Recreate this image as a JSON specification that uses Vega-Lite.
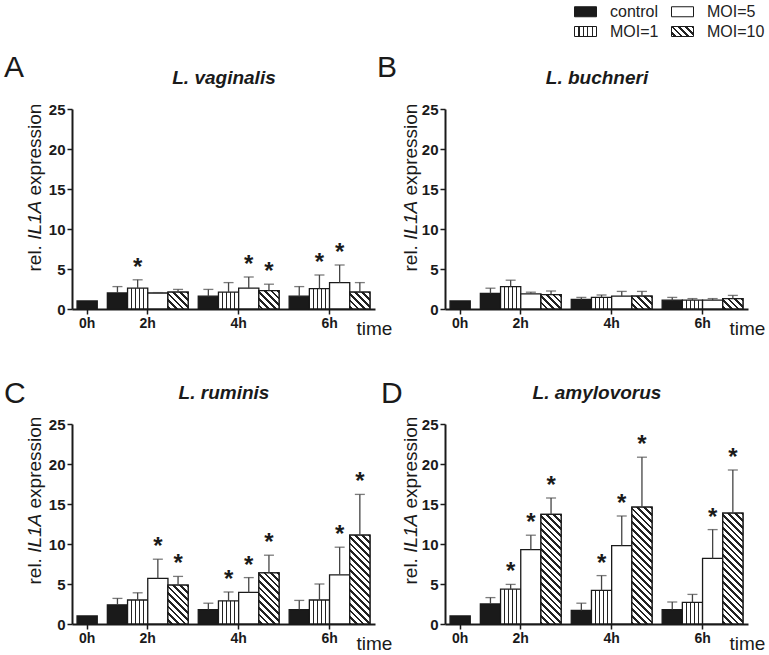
{
  "$schema": "https://vega.github.io/schema/vega-lite/v6.json",
  "padding": {"left": 3, "top": 3, "right": 0, "bottom": 0},
  "bounds": "flush",
  "columns": 2,
  "spacing": {"row": 115, "column": 70},
  "config": {
    "font": "Liberation Sans",
    "view": {"stroke": null},
    "axis": {"grid": false}
  },
  "data": {
    "values": [
      {"panel": "A", "time": "0h", "group": "control", "mean": 1.0, "upper": null, "sig": false},
      {"panel": "A", "time": "2h", "group": "control", "mean": 2.0, "upper": 2.8, "sig": false},
      {"panel": "A", "time": "2h", "group": "MOI=1", "mean": 2.6, "upper": 3.65, "sig": true},
      {"panel": "A", "time": "2h", "group": "MOI=5", "mean": 2.0, "upper": 2.05, "sig": false},
      {"panel": "A", "time": "2h", "group": "MOI=10", "mean": 2.1, "upper": 2.45, "sig": false},
      {"panel": "A", "time": "4h", "group": "control", "mean": 1.6, "upper": 2.45, "sig": false},
      {"panel": "A", "time": "4h", "group": "MOI=1", "mean": 2.1, "upper": 3.3, "sig": false},
      {"panel": "A", "time": "4h", "group": "MOI=5", "mean": 2.6, "upper": 4.0, "sig": true},
      {"panel": "A", "time": "4h", "group": "MOI=10", "mean": 2.3, "upper": 3.1, "sig": true},
      {"panel": "A", "time": "6h", "group": "control", "mean": 1.6, "upper": 2.8, "sig": false},
      {"panel": "A", "time": "6h", "group": "MOI=1", "mean": 2.55, "upper": 4.25, "sig": true},
      {"panel": "A", "time": "6h", "group": "MOI=5", "mean": 3.3, "upper": 5.5, "sig": true},
      {"panel": "A", "time": "6h", "group": "MOI=10", "mean": 2.1, "upper": 3.3, "sig": false},
      {"panel": "B", "time": "0h", "group": "control", "mean": 1.0, "upper": null, "sig": false},
      {"panel": "B", "time": "2h", "group": "control", "mean": 1.95, "upper": 2.6, "sig": false},
      {"panel": "B", "time": "2h", "group": "MOI=1", "mean": 2.8, "upper": 3.6, "sig": false},
      {"panel": "B", "time": "2h", "group": "MOI=5", "mean": 1.9, "upper": 2.1, "sig": false},
      {"panel": "B", "time": "2h", "group": "MOI=10", "mean": 1.8, "upper": 2.25, "sig": false},
      {"panel": "B", "time": "4h", "group": "control", "mean": 1.2, "upper": 1.45, "sig": false},
      {"panel": "B", "time": "4h", "group": "MOI=1", "mean": 1.45, "upper": 1.75, "sig": false},
      {"panel": "B", "time": "4h", "group": "MOI=5", "mean": 1.6, "upper": 2.2, "sig": false},
      {"panel": "B", "time": "4h", "group": "MOI=10", "mean": 1.6, "upper": 2.2, "sig": false},
      {"panel": "B", "time": "6h", "group": "control", "mean": 1.1, "upper": 1.45, "sig": false},
      {"panel": "B", "time": "6h", "group": "MOI=1", "mean": 1.1, "upper": 1.3, "sig": false},
      {"panel": "B", "time": "6h", "group": "MOI=5", "mean": 1.1, "upper": 1.3, "sig": false},
      {"panel": "B", "time": "6h", "group": "MOI=10", "mean": 1.3, "upper": 1.7, "sig": false},
      {"panel": "C", "time": "0h", "group": "control", "mean": 1.0, "upper": null, "sig": false},
      {"panel": "C", "time": "2h", "group": "control", "mean": 2.4, "upper": 3.2, "sig": false},
      {"panel": "C", "time": "2h", "group": "MOI=1", "mean": 3.0, "upper": 3.9, "sig": false},
      {"panel": "C", "time": "2h", "group": "MOI=5", "mean": 5.7, "upper": 8.1, "sig": true},
      {"panel": "C", "time": "2h", "group": "MOI=10", "mean": 4.85, "upper": 5.95, "sig": true},
      {"panel": "C", "time": "4h", "group": "control", "mean": 1.8, "upper": 2.6, "sig": false},
      {"panel": "C", "time": "4h", "group": "MOI=1", "mean": 2.9, "upper": 4.0, "sig": true},
      {"panel": "C", "time": "4h", "group": "MOI=5", "mean": 3.95, "upper": 5.8, "sig": true},
      {"panel": "C", "time": "4h", "group": "MOI=10", "mean": 6.4, "upper": 8.6, "sig": true},
      {"panel": "C", "time": "6h", "group": "control", "mean": 1.8, "upper": 2.95, "sig": false},
      {"panel": "C", "time": "6h", "group": "MOI=1", "mean": 3.0, "upper": 5.0, "sig": false},
      {"panel": "C", "time": "6h", "group": "MOI=5", "mean": 6.15, "upper": 9.6, "sig": true},
      {"panel": "C", "time": "6h", "group": "MOI=10", "mean": 11.1, "upper": 16.2, "sig": true},
      {"panel": "D", "time": "0h", "group": "control", "mean": 1.0, "upper": null, "sig": false},
      {"panel": "D", "time": "2h", "group": "control", "mean": 2.5, "upper": 3.3, "sig": false},
      {"panel": "D", "time": "2h", "group": "MOI=1", "mean": 4.35, "upper": 4.95, "sig": true},
      {"panel": "D", "time": "2h", "group": "MOI=5", "mean": 9.3, "upper": 11.1, "sig": true},
      {"panel": "D", "time": "2h", "group": "MOI=10", "mean": 13.7, "upper": 15.75, "sig": true},
      {"panel": "D", "time": "4h", "group": "control", "mean": 1.7, "upper": 2.6, "sig": false},
      {"panel": "D", "time": "4h", "group": "MOI=1", "mean": 4.2, "upper": 6.05, "sig": true},
      {"panel": "D", "time": "4h", "group": "MOI=5", "mean": 9.8, "upper": 13.5, "sig": true},
      {"panel": "D", "time": "4h", "group": "MOI=10", "mean": 14.6, "upper": 20.85, "sig": true},
      {"panel": "D", "time": "6h", "group": "control", "mean": 1.8, "upper": 2.75, "sig": false},
      {"panel": "D", "time": "6h", "group": "MOI=1", "mean": 2.7, "upper": 3.7, "sig": false},
      {"panel": "D", "time": "6h", "group": "MOI=5", "mean": 8.2, "upper": 11.8, "sig": true},
      {"panel": "D", "time": "6h", "group": "MOI=10", "mean": 13.85, "upper": 19.25, "sig": true}
    ]
  },
  "concat": [
    {
      "width": 303, "height": 200,
      "title": {"text": "A", "anchor": "start", "frame": "bounds", "fontSize": 30, "fontWeight": "normal", "color": "#1a1a1a", "baseline": "alphabetic", "offset": 0, "dx": -21, "dy": 38},
      "transform": [{"filter": "datum.panel == 'A'"}, {"calculate": "datum.time + '|' + datum.group", "as": "key"}],
      "resolve": {"axis": {"x": "independent", "y": "independent"}},
      "layer": [
        {
          "mark": {"type": "bar", "stroke": "#1a1a1a", "strokeWidth": 1.3, "width": {"band": 2}},
          "encoding": {
            "x": {"field": "key", "type": "nominal", "scale": {"type": "band", "domain": ["0h|control","_1","_2","2h|control","_3","2h|MOI=1","2h","2h|MOI=5","_4","2h|MOI=10","_5","_6","4h|control","_7","4h|MOI=1","4h","4h|MOI=5","_8","4h|MOI=10","_9","_10","6h|control","_11","6h|MOI=1","6h","6h|MOI=5","_12","6h|MOI=10"], "paddingInner": 0, "paddingOuter": 1},
              "axis": {"values": ["0h|control","2h","4h","6h"], "labelExpr": "split(datum.value,'|')[0]", "labelAngle": 0, "labelFontSize": 14, "labelFontWeight": "bold", "labelColor": "#1a1a1a", "labelPadding": 2, "tickSize": 5, "tickWidth": 1.5, "tickColor": "#1a1a1a", "domainColor": "#1a1a1a", "domainWidth": 2, "title": "time", "titleX": 284, "titleY": 25, "titleAlign": "left", "titleAnchor": "start", "titleBaseline": "alphabetic", "titleFontSize": 19, "titleFontWeight": "normal", "titleColor": "#1a1a1a"}},
            "y": {"field": "mean", "type": "quantitative", "scale": {"domain": [0, 25], "nice": false},
              "axis": {"orient": "left", "values": [0,5,10,15,20,25], "labelOverlap": false, "title": "rel.", "titleFontSize": 19, "titleFontWeight": "normal", "titleColor": "#1a1a1a", "titleX": -32, "titleY": 162, "titleAngle": 270, "titleAlign": "left", "titleBaseline": "alphabetic", "labelFontSize": 15, "labelFontWeight": "bold", "labelColor": "#1a1a1a", "labelPadding": 2, "tickSize": 5, "tickWidth": 1.5, "tickColor": "#1a1a1a", "domainColor": "#1a1a1a", "domainWidth": 2}},
            "fill": {"field": "group", "type": "nominal",
              "scale": {"domain": ["control","MOI=1","MOI=5","MOI=10"], "range": ["#1a1a1a",
                {"expr": "{gradient:'linear',x1:0,y1:0,x2:1,y2:0,stops:[{offset:0,color:'#fff'},{offset:0.18,color:'#fff'},{offset:0.18,color:'#222'},{offset:0.235,color:'#222'},{offset:0.235,color:'#fff'},{offset:0.38,color:'#fff'},{offset:0.38,color:'#222'},{offset:0.435,color:'#222'},{offset:0.435,color:'#fff'},{offset:0.58,color:'#fff'},{offset:0.58,color:'#222'},{offset:0.635,color:'#222'},{offset:0.635,color:'#fff'},{offset:0.78,color:'#fff'},{offset:0.78,color:'#222'},{offset:0.835,color:'#222'},{offset:0.835,color:'#fff'},{offset:1,color:'#fff'}]}"},
                "#ffffff",
                {"expr": "{gradient:'linear',x1:1,y1:0,x2:-0.205,y2:0.548,stops:[{offset:0,color:'#222'},{offset:0.084,color:'#222'},{offset:0.084,color:'#fff'},{offset:0.21,color:'#fff'},{offset:0.21,color:'#222'},{offset:0.294,color:'#222'},{offset:0.294,color:'#fff'},{offset:0.42,color:'#fff'},{offset:0.42,color:'#222'},{offset:0.504,color:'#222'},{offset:0.504,color:'#fff'},{offset:0.63,color:'#fff'},{offset:0.63,color:'#222'},{offset:0.714,color:'#222'},{offset:0.714,color:'#fff'},{offset:0.84,color:'#fff'},{offset:0.84,color:'#222'},{offset:0.924,color:'#222'},{offset:0.924,color:'#fff'},{offset:1,color:'#fff'}]}"}
              ]},
              "legend": {"orient": "none", "legendX": 505, "legendY": -106, "columns": 2, "title": null, "padding": 0, "symbolType": "M-1.375,-0.625H1.375V0.625H-1.375Z", "symbolSize": 256, "symbolStrokeColor": "#1a1a1a", "symbolStrokeWidth": 1, "symbolOpacity": 1, "labelFontSize": 16, "labelColor": "#222222", "labelOffset": 16, "columnPadding": 10, "rowPadding": 3}}
          }
        },
        {
          "transform": [{"filter": "datum.group == 'MOI=10'"}],
          "mark": {"type": "bar", "stroke": "#1a1a1a", "strokeWidth": 1.3, "width": {"band": 2},
            "fill": {"expr": "{gradient:'linear',x1:1,y1:0,x2:1-20.2*(20.2+datum.mean*8)/(408+pow(datum.mean*8,2)),y2:datum.mean*8*(20.2+datum.mean*8)/(408+pow(datum.mean*8,2)),stops:[{offset:0,color:'#222'},{offset:min(1,2.7/(20.2+datum.mean*8)),color:'#222'},{offset:min(1,2.7/(20.2+datum.mean*8)),color:'#fff'},{offset:min(1,6.7/(20.2+datum.mean*8)),color:'#fff'},{offset:min(1,6.7/(20.2+datum.mean*8)),color:'#222'},{offset:min(1,9.4/(20.2+datum.mean*8)),color:'#222'},{offset:min(1,9.4/(20.2+datum.mean*8)),color:'#fff'},{offset:min(1,13.4/(20.2+datum.mean*8)),color:'#fff'},{offset:min(1,13.4/(20.2+datum.mean*8)),color:'#222'},{offset:min(1,16.1/(20.2+datum.mean*8)),color:'#222'},{offset:min(1,16.1/(20.2+datum.mean*8)),color:'#fff'},{offset:min(1,20.1/(20.2+datum.mean*8)),color:'#fff'},{offset:min(1,20.1/(20.2+datum.mean*8)),color:'#222'},{offset:min(1,22.8/(20.2+datum.mean*8)),color:'#222'},{offset:min(1,22.8/(20.2+datum.mean*8)),color:'#fff'},{offset:min(1,26.8/(20.2+datum.mean*8)),color:'#fff'},{offset:min(1,26.8/(20.2+datum.mean*8)),color:'#222'},{offset:min(1,29.5/(20.2+datum.mean*8)),color:'#222'},{offset:min(1,29.5/(20.2+datum.mean*8)),color:'#fff'},{offset:min(1,33.5/(20.2+datum.mean*8)),color:'#fff'},{offset:min(1,33.5/(20.2+datum.mean*8)),color:'#222'},{offset:min(1,36.2/(20.2+datum.mean*8)),color:'#222'},{offset:min(1,36.2/(20.2+datum.mean*8)),color:'#fff'},{offset:min(1,40.2/(20.2+datum.mean*8)),color:'#fff'},{offset:min(1,40.2/(20.2+datum.mean*8)),color:'#222'},{offset:min(1,42.9/(20.2+datum.mean*8)),color:'#222'},{offset:min(1,42.9/(20.2+datum.mean*8)),color:'#fff'},{offset:min(1,46.9/(20.2+datum.mean*8)),color:'#fff'},{offset:1,color:'#fff'}]}"}},
          "encoding": {
            "x": {"field": "key", "type": "nominal", "axis": null},
            "y": {"field": "mean", "type": "quantitative", "axis": null}
          }
        },
        {
          "transform": [{"filter": "isValid(datum.upper)"}],
          "mark": {"type": "rule", "color": "#444444", "strokeWidth": 1.3},
          "encoding": {
            "x": {"field": "key", "type": "nominal", "axis": null},
            "y": {"field": "mean", "type": "quantitative", "axis": {"orient": "left", "domain": false, "ticks": false, "labels": false, "title": "IL1A", "titleFontStyle": "italic", "titleFontSize": 19, "titleFontWeight": "normal", "titleColor": "#1a1a1a", "titleX": -32, "titleY": 130.3, "titleAngle": 270, "titleAlign": "left", "titleBaseline": "alphabetic"}},
            "y2": {"field": "upper"}
          }
        },
        {
          "transform": [{"filter": "isValid(datum.upper)"}],
          "mark": {"type": "tick", "color": "#444444", "thickness": 1.3, "size": 10, "orient": "horizontal"},
          "encoding": {
            "x": {"field": "key", "type": "nominal", "axis": null},
            "y": {"field": "upper", "type": "quantitative", "axis": {"orient": "left", "domain": false, "ticks": false, "labels": false, "title": "expression", "titleFontSize": 19, "titleFontWeight": "normal", "titleColor": "#1a1a1a", "titleX": -32, "titleY": 86, "titleAngle": 270, "titleAlign": "left", "titleBaseline": "alphabetic"}}
          }
        },
        {
          "transform": [{"filter": "datum.sig"}],
          "mark": {"type": "text", "text": "*", "fontSize": 24, "fontWeight": "bold", "color": "#1a1a1a", "baseline": "alphabetic", "dy": -5},
          "encoding": {
            "x": {"field": "key", "type": "nominal", "axis": {"orient": "top", "domain": false, "ticks": false, "labels": false, "title": "L. vaginalis", "titleFontStyle": "italic", "titleFontWeight": "bold", "titleFontSize": 19, "titleColor": "#1a1a1a", "titleX": 151.5, "titleY": -25.5, "titleAlign": "center", "titleBaseline": "alphabetic"}},
            "y": {"field": "upper", "type": "quantitative", "axis": null}
          }
        }
      ]
    },
    {
      "width": 303, "height": 200,
      "title": {"text": "B", "anchor": "start", "frame": "bounds", "fontSize": 30, "fontWeight": "normal", "color": "#1a1a1a", "baseline": "alphabetic", "offset": 0, "dx": -24, "dy": 38},
      "transform": [{"filter": "datum.panel == 'B'"}, {"calculate": "datum.time + '|' + datum.group", "as": "key"}],
      "resolve": {"axis": {"x": "independent", "y": "independent"}},
      "layer": [
        {
          "mark": {"type": "bar", "stroke": "#1a1a1a", "strokeWidth": 1.3, "width": {"band": 2}},
          "encoding": {
            "x": {"field": "key", "type": "nominal", "scale": {"type": "band", "domain": ["0h|control","_1","_2","2h|control","_3","2h|MOI=1","2h","2h|MOI=5","_4","2h|MOI=10","_5","_6","4h|control","_7","4h|MOI=1","4h","4h|MOI=5","_8","4h|MOI=10","_9","_10","6h|control","_11","6h|MOI=1","6h","6h|MOI=5","_12","6h|MOI=10"], "paddingInner": 0, "paddingOuter": 1},
              "axis": {"values": ["0h|control","2h","4h","6h"], "labelExpr": "split(datum.value,'|')[0]", "labelAngle": 0, "labelFontSize": 14, "labelFontWeight": "bold", "labelColor": "#1a1a1a", "labelPadding": 2, "tickSize": 5, "tickWidth": 1.5, "tickColor": "#1a1a1a", "domainColor": "#1a1a1a", "domainWidth": 2, "title": "time", "titleX": 284, "titleY": 25, "titleAlign": "left", "titleAnchor": "start", "titleBaseline": "alphabetic", "titleFontSize": 19, "titleFontWeight": "normal", "titleColor": "#1a1a1a"}},
            "y": {"field": "mean", "type": "quantitative", "scale": {"domain": [0, 25], "nice": false},
              "axis": {"orient": "left", "values": [0,5,10,15,20,25], "labelOverlap": false, "title": "rel.", "titleFontSize": 19, "titleFontWeight": "normal", "titleColor": "#1a1a1a", "titleX": -29, "titleY": 162, "titleAngle": 270, "titleAlign": "left", "titleBaseline": "alphabetic", "labelFontSize": 15, "labelFontWeight": "bold", "labelColor": "#1a1a1a", "labelPadding": 2, "tickSize": 5, "tickWidth": 1.5, "tickColor": "#1a1a1a", "domainColor": "#1a1a1a", "domainWidth": 2}},
            "fill": {"field": "group", "type": "nominal",
              "scale": {"domain": ["control","MOI=1","MOI=5","MOI=10"], "range": ["#1a1a1a",
                {"expr": "{gradient:'linear',x1:0,y1:0,x2:1,y2:0,stops:[{offset:0,color:'#fff'},{offset:0.18,color:'#fff'},{offset:0.18,color:'#222'},{offset:0.235,color:'#222'},{offset:0.235,color:'#fff'},{offset:0.38,color:'#fff'},{offset:0.38,color:'#222'},{offset:0.435,color:'#222'},{offset:0.435,color:'#fff'},{offset:0.58,color:'#fff'},{offset:0.58,color:'#222'},{offset:0.635,color:'#222'},{offset:0.635,color:'#fff'},{offset:0.78,color:'#fff'},{offset:0.78,color:'#222'},{offset:0.835,color:'#222'},{offset:0.835,color:'#fff'},{offset:1,color:'#fff'}]}"},
                "#ffffff",
                {"expr": "{gradient:'linear',x1:1,y1:0,x2:-0.205,y2:0.548,stops:[{offset:0,color:'#222'},{offset:0.084,color:'#222'},{offset:0.084,color:'#fff'},{offset:0.21,color:'#fff'},{offset:0.21,color:'#222'},{offset:0.294,color:'#222'},{offset:0.294,color:'#fff'},{offset:0.42,color:'#fff'},{offset:0.42,color:'#222'},{offset:0.504,color:'#222'},{offset:0.504,color:'#fff'},{offset:0.63,color:'#fff'},{offset:0.63,color:'#222'},{offset:0.714,color:'#222'},{offset:0.714,color:'#fff'},{offset:0.84,color:'#fff'},{offset:0.84,color:'#222'},{offset:0.924,color:'#222'},{offset:0.924,color:'#fff'},{offset:1,color:'#fff'}]}"}
              ]},
              "legend": {"orient": "none", "legendX": 505, "legendY": -106, "columns": 2, "title": null, "padding": 0, "symbolType": "M-1.375,-0.625H1.375V0.625H-1.375Z", "symbolSize": 256, "symbolStrokeColor": "#1a1a1a", "symbolStrokeWidth": 1, "symbolOpacity": 1, "labelFontSize": 16, "labelColor": "#222222", "labelOffset": 16, "columnPadding": 10, "rowPadding": 3}}
          }
        },
        {
          "transform": [{"filter": "datum.group == 'MOI=10'"}],
          "mark": {"type": "bar", "stroke": "#1a1a1a", "strokeWidth": 1.3, "width": {"band": 2},
            "fill": {"expr": "{gradient:'linear',x1:1,y1:0,x2:1-20.2*(20.2+datum.mean*8)/(408+pow(datum.mean*8,2)),y2:datum.mean*8*(20.2+datum.mean*8)/(408+pow(datum.mean*8,2)),stops:[{offset:0,color:'#222'},{offset:min(1,2.7/(20.2+datum.mean*8)),color:'#222'},{offset:min(1,2.7/(20.2+datum.mean*8)),color:'#fff'},{offset:min(1,6.7/(20.2+datum.mean*8)),color:'#fff'},{offset:min(1,6.7/(20.2+datum.mean*8)),color:'#222'},{offset:min(1,9.4/(20.2+datum.mean*8)),color:'#222'},{offset:min(1,9.4/(20.2+datum.mean*8)),color:'#fff'},{offset:min(1,13.4/(20.2+datum.mean*8)),color:'#fff'},{offset:min(1,13.4/(20.2+datum.mean*8)),color:'#222'},{offset:min(1,16.1/(20.2+datum.mean*8)),color:'#222'},{offset:min(1,16.1/(20.2+datum.mean*8)),color:'#fff'},{offset:min(1,20.1/(20.2+datum.mean*8)),color:'#fff'},{offset:min(1,20.1/(20.2+datum.mean*8)),color:'#222'},{offset:min(1,22.8/(20.2+datum.mean*8)),color:'#222'},{offset:min(1,22.8/(20.2+datum.mean*8)),color:'#fff'},{offset:min(1,26.8/(20.2+datum.mean*8)),color:'#fff'},{offset:min(1,26.8/(20.2+datum.mean*8)),color:'#222'},{offset:min(1,29.5/(20.2+datum.mean*8)),color:'#222'},{offset:min(1,29.5/(20.2+datum.mean*8)),color:'#fff'},{offset:min(1,33.5/(20.2+datum.mean*8)),color:'#fff'},{offset:min(1,33.5/(20.2+datum.mean*8)),color:'#222'},{offset:min(1,36.2/(20.2+datum.mean*8)),color:'#222'},{offset:min(1,36.2/(20.2+datum.mean*8)),color:'#fff'},{offset:min(1,40.2/(20.2+datum.mean*8)),color:'#fff'},{offset:1,color:'#fff'}]}"}},
          "encoding": {
            "x": {"field": "key", "type": "nominal", "axis": null},
            "y": {"field": "mean", "type": "quantitative", "axis": null}
          }
        },
        {
          "transform": [{"filter": "isValid(datum.upper)"}],
          "mark": {"type": "rule", "color": "#444444", "strokeWidth": 1.3},
          "encoding": {
            "x": {"field": "key", "type": "nominal", "axis": null},
            "y": {"field": "mean", "type": "quantitative", "axis": {"orient": "left", "domain": false, "ticks": false, "labels": false, "title": "IL1A", "titleFontStyle": "italic", "titleFontSize": 19, "titleFontWeight": "normal", "titleColor": "#1a1a1a", "titleX": -29, "titleY": 130.3, "titleAngle": 270, "titleAlign": "left", "titleBaseline": "alphabetic"}},
            "y2": {"field": "upper"}
          }
        },
        {
          "transform": [{"filter": "isValid(datum.upper)"}],
          "mark": {"type": "tick", "color": "#444444", "thickness": 1.3, "size": 10, "orient": "horizontal"},
          "encoding": {
            "x": {"field": "key", "type": "nominal", "axis": null},
            "y": {"field": "upper", "type": "quantitative", "axis": {"orient": "left", "domain": false, "ticks": false, "labels": false, "title": "expression", "titleFontSize": 19, "titleFontWeight": "normal", "titleColor": "#1a1a1a", "titleX": -29, "titleY": 86, "titleAngle": 270, "titleAlign": "left", "titleBaseline": "alphabetic"}}
          }
        },
        {
          "transform": [{"filter": "datum.sig"}],
          "mark": {"type": "text", "text": "*", "fontSize": 24, "fontWeight": "bold", "color": "#1a1a1a", "baseline": "alphabetic", "dy": -5},
          "encoding": {
            "x": {"field": "key", "type": "nominal", "axis": {"orient": "top", "domain": false, "ticks": false, "labels": false, "title": "L. buchneri", "titleFontStyle": "italic", "titleFontWeight": "bold", "titleFontSize": 19, "titleColor": "#1a1a1a", "titleX": 151.5, "titleY": -25.5, "titleAlign": "center", "titleBaseline": "alphabetic"}},
            "y": {"field": "upper", "type": "quantitative", "axis": null}
          }
        }
      ]
    },
    {
      "width": 303, "height": 200,
      "title": {"text": "C", "anchor": "start", "frame": "bounds", "fontSize": 30, "fontWeight": "normal", "color": "#1a1a1a", "baseline": "alphabetic", "offset": 0, "dx": -21, "dy": 50},
      "transform": [{"filter": "datum.panel == 'C'"}, {"calculate": "datum.time + '|' + datum.group", "as": "key"}],
      "resolve": {"axis": {"x": "independent", "y": "independent"}},
      "layer": [
        {
          "mark": {"type": "bar", "stroke": "#1a1a1a", "strokeWidth": 1.3, "width": {"band": 2}},
          "encoding": {
            "x": {"field": "key", "type": "nominal", "scale": {"type": "band", "domain": ["0h|control","_1","_2","2h|control","_3","2h|MOI=1","2h","2h|MOI=5","_4","2h|MOI=10","_5","_6","4h|control","_7","4h|MOI=1","4h","4h|MOI=5","_8","4h|MOI=10","_9","_10","6h|control","_11","6h|MOI=1","6h","6h|MOI=5","_12","6h|MOI=10"], "paddingInner": 0, "paddingOuter": 1},
              "axis": {"values": ["0h|control","2h","4h","6h"], "labelExpr": "split(datum.value,'|')[0]", "labelAngle": 0, "labelFontSize": 14, "labelFontWeight": "bold", "labelColor": "#1a1a1a", "labelPadding": 2, "tickSize": 5, "tickWidth": 1.5, "tickColor": "#1a1a1a", "domainColor": "#1a1a1a", "domainWidth": 2, "title": "time", "titleX": 284, "titleY": 25, "titleAlign": "left", "titleAnchor": "start", "titleBaseline": "alphabetic", "titleFontSize": 19, "titleFontWeight": "normal", "titleColor": "#1a1a1a"}},
            "y": {"field": "mean", "type": "quantitative", "scale": {"domain": [0, 25], "nice": false},
              "axis": {"orient": "left", "values": [0,5,10,15,20,25], "labelOverlap": false, "title": "rel.", "titleFontSize": 19, "titleFontWeight": "normal", "titleColor": "#1a1a1a", "titleX": -32, "titleY": 160, "titleAngle": 270, "titleAlign": "left", "titleBaseline": "alphabetic", "labelFontSize": 15, "labelFontWeight": "bold", "labelColor": "#1a1a1a", "labelPadding": 2, "tickSize": 5, "tickWidth": 1.5, "tickColor": "#1a1a1a", "domainColor": "#1a1a1a", "domainWidth": 2}},
            "fill": {"field": "group", "type": "nominal",
              "scale": {"domain": ["control","MOI=1","MOI=5","MOI=10"], "range": ["#1a1a1a",
                {"expr": "{gradient:'linear',x1:0,y1:0,x2:1,y2:0,stops:[{offset:0,color:'#fff'},{offset:0.18,color:'#fff'},{offset:0.18,color:'#222'},{offset:0.235,color:'#222'},{offset:0.235,color:'#fff'},{offset:0.38,color:'#fff'},{offset:0.38,color:'#222'},{offset:0.435,color:'#222'},{offset:0.435,color:'#fff'},{offset:0.58,color:'#fff'},{offset:0.58,color:'#222'},{offset:0.635,color:'#222'},{offset:0.635,color:'#fff'},{offset:0.78,color:'#fff'},{offset:0.78,color:'#222'},{offset:0.835,color:'#222'},{offset:0.835,color:'#fff'},{offset:1,color:'#fff'}]}"},
                "#ffffff",
                {"expr": "{gradient:'linear',x1:1,y1:0,x2:-0.205,y2:0.548,stops:[{offset:0,color:'#222'},{offset:0.084,color:'#222'},{offset:0.084,color:'#fff'},{offset:0.21,color:'#fff'},{offset:0.21,color:'#222'},{offset:0.294,color:'#222'},{offset:0.294,color:'#fff'},{offset:0.42,color:'#fff'},{offset:0.42,color:'#222'},{offset:0.504,color:'#222'},{offset:0.504,color:'#fff'},{offset:0.63,color:'#fff'},{offset:0.63,color:'#222'},{offset:0.714,color:'#222'},{offset:0.714,color:'#fff'},{offset:0.84,color:'#fff'},{offset:0.84,color:'#222'},{offset:0.924,color:'#222'},{offset:0.924,color:'#fff'},{offset:1,color:'#fff'}]}"}
              ]},
              "legend": {"orient": "none", "legendX": 505, "legendY": -106, "columns": 2, "title": null, "padding": 0, "symbolType": "M-1.375,-0.625H1.375V0.625H-1.375Z", "symbolSize": 256, "symbolStrokeColor": "#1a1a1a", "symbolStrokeWidth": 1, "symbolOpacity": 1, "labelFontSize": 16, "labelColor": "#222222", "labelOffset": 16, "columnPadding": 10, "rowPadding": 3}}
          }
        },
        {
          "transform": [{"filter": "datum.group == 'MOI=10'"}],
          "mark": {"type": "bar", "stroke": "#1a1a1a", "strokeWidth": 1.3, "width": {"band": 2},
            "fill": {"expr": "{gradient:'linear',x1:1,y1:0,x2:1-20.2*(20.2+datum.mean*8)/(408+pow(datum.mean*8,2)),y2:datum.mean*8*(20.2+datum.mean*8)/(408+pow(datum.mean*8,2)),stops:[{offset:0,color:'#222'},{offset:min(1,2.7/(20.2+datum.mean*8)),color:'#222'},{offset:min(1,2.7/(20.2+datum.mean*8)),color:'#fff'},{offset:min(1,6.7/(20.2+datum.mean*8)),color:'#fff'},{offset:min(1,6.7/(20.2+datum.mean*8)),color:'#222'},{offset:min(1,9.4/(20.2+datum.mean*8)),color:'#222'},{offset:min(1,9.4/(20.2+datum.mean*8)),color:'#fff'},{offset:min(1,13.4/(20.2+datum.mean*8)),color:'#fff'},{offset:min(1,13.4/(20.2+datum.mean*8)),color:'#222'},{offset:min(1,16.1/(20.2+datum.mean*8)),color:'#222'},{offset:min(1,16.1/(20.2+datum.mean*8)),color:'#fff'},{offset:min(1,20.1/(20.2+datum.mean*8)),color:'#fff'},{offset:min(1,20.1/(20.2+datum.mean*8)),color:'#222'},{offset:min(1,22.8/(20.2+datum.mean*8)),color:'#222'},{offset:min(1,22.8/(20.2+datum.mean*8)),color:'#fff'},{offset:min(1,26.8/(20.2+datum.mean*8)),color:'#fff'},{offset:min(1,26.8/(20.2+datum.mean*8)),color:'#222'},{offset:min(1,29.5/(20.2+datum.mean*8)),color:'#222'},{offset:min(1,29.5/(20.2+datum.mean*8)),color:'#fff'},{offset:min(1,33.5/(20.2+datum.mean*8)),color:'#fff'},{offset:min(1,33.5/(20.2+datum.mean*8)),color:'#222'},{offset:min(1,36.2/(20.2+datum.mean*8)),color:'#222'},{offset:min(1,36.2/(20.2+datum.mean*8)),color:'#fff'},{offset:min(1,40.2/(20.2+datum.mean*8)),color:'#fff'},{offset:min(1,40.2/(20.2+datum.mean*8)),color:'#222'},{offset:min(1,42.9/(20.2+datum.mean*8)),color:'#222'},{offset:min(1,42.9/(20.2+datum.mean*8)),color:'#fff'},{offset:min(1,46.9/(20.2+datum.mean*8)),color:'#fff'},{offset:min(1,46.9/(20.2+datum.mean*8)),color:'#222'},{offset:min(1,49.6/(20.2+datum.mean*8)),color:'#222'},{offset:min(1,49.6/(20.2+datum.mean*8)),color:'#fff'},{offset:min(1,53.6/(20.2+datum.mean*8)),color:'#fff'},{offset:min(1,53.6/(20.2+datum.mean*8)),color:'#222'},{offset:min(1,56.3/(20.2+datum.mean*8)),color:'#222'},{offset:min(1,56.3/(20.2+datum.mean*8)),color:'#fff'},{offset:min(1,60.3/(20.2+datum.mean*8)),color:'#fff'},{offset:min(1,60.3/(20.2+datum.mean*8)),color:'#222'},{offset:min(1,63/(20.2+datum.mean*8)),color:'#222'},{offset:min(1,63/(20.2+datum.mean*8)),color:'#fff'},{offset:min(1,67/(20.2+datum.mean*8)),color:'#fff'},{offset:min(1,67/(20.2+datum.mean*8)),color:'#222'},{offset:min(1,69.7/(20.2+datum.mean*8)),color:'#222'},{offset:min(1,69.7/(20.2+datum.mean*8)),color:'#fff'},{offset:min(1,73.7/(20.2+datum.mean*8)),color:'#fff'},{offset:min(1,73.7/(20.2+datum.mean*8)),color:'#222'},{offset:min(1,76.4/(20.2+datum.mean*8)),color:'#222'},{offset:min(1,76.4/(20.2+datum.mean*8)),color:'#fff'},{offset:min(1,80.4/(20.2+datum.mean*8)),color:'#fff'},{offset:min(1,80.4/(20.2+datum.mean*8)),color:'#222'},{offset:min(1,83.1/(20.2+datum.mean*8)),color:'#222'},{offset:min(1,83.1/(20.2+datum.mean*8)),color:'#fff'},{offset:min(1,87.1/(20.2+datum.mean*8)),color:'#fff'},{offset:min(1,87.1/(20.2+datum.mean*8)),color:'#222'},{offset:min(1,89.8/(20.2+datum.mean*8)),color:'#222'},{offset:min(1,89.8/(20.2+datum.mean*8)),color:'#fff'},{offset:min(1,93.8/(20.2+datum.mean*8)),color:'#fff'},{offset:min(1,93.8/(20.2+datum.mean*8)),color:'#222'},{offset:min(1,96.5/(20.2+datum.mean*8)),color:'#222'},{offset:min(1,96.5/(20.2+datum.mean*8)),color:'#fff'},{offset:min(1,100.5/(20.2+datum.mean*8)),color:'#fff'},{offset:min(1,100.5/(20.2+datum.mean*8)),color:'#222'},{offset:min(1,103.2/(20.2+datum.mean*8)),color:'#222'},{offset:min(1,103.2/(20.2+datum.mean*8)),color:'#fff'},{offset:min(1,107.2/(20.2+datum.mean*8)),color:'#fff'},{offset:min(1,107.2/(20.2+datum.mean*8)),color:'#222'},{offset:min(1,109.9/(20.2+datum.mean*8)),color:'#222'},{offset:min(1,109.9/(20.2+datum.mean*8)),color:'#fff'},{offset:min(1,113.9/(20.2+datum.mean*8)),color:'#fff'},{offset:1,color:'#fff'}]}"}},
          "encoding": {
            "x": {"field": "key", "type": "nominal", "axis": null},
            "y": {"field": "mean", "type": "quantitative", "axis": null}
          }
        },
        {
          "transform": [{"filter": "isValid(datum.upper)"}],
          "mark": {"type": "rule", "color": "#444444", "strokeWidth": 1.3},
          "encoding": {
            "x": {"field": "key", "type": "nominal", "axis": null},
            "y": {"field": "mean", "type": "quantitative", "axis": {"orient": "left", "domain": false, "ticks": false, "labels": false, "title": "IL1A", "titleFontStyle": "italic", "titleFontSize": 19, "titleFontWeight": "normal", "titleColor": "#1a1a1a", "titleX": -32, "titleY": 128.3, "titleAngle": 270, "titleAlign": "left", "titleBaseline": "alphabetic"}},
            "y2": {"field": "upper"}
          }
        },
        {
          "transform": [{"filter": "isValid(datum.upper)"}],
          "mark": {"type": "tick", "color": "#444444", "thickness": 1.3, "size": 10, "orient": "horizontal"},
          "encoding": {
            "x": {"field": "key", "type": "nominal", "axis": null},
            "y": {"field": "upper", "type": "quantitative", "axis": {"orient": "left", "domain": false, "ticks": false, "labels": false, "title": "expression", "titleFontSize": 19, "titleFontWeight": "normal", "titleColor": "#1a1a1a", "titleX": -32, "titleY": 84, "titleAngle": 270, "titleAlign": "left", "titleBaseline": "alphabetic"}}
          }
        },
        {
          "transform": [{"filter": "datum.sig"}],
          "mark": {"type": "text", "text": "*", "fontSize": 24, "fontWeight": "bold", "color": "#1a1a1a", "baseline": "alphabetic", "dy": -5},
          "encoding": {
            "x": {"field": "key", "type": "nominal", "axis": {"orient": "top", "domain": false, "ticks": false, "labels": false, "title": "L. ruminis", "titleFontStyle": "italic", "titleFontWeight": "bold", "titleFontSize": 19, "titleColor": "#1a1a1a", "titleX": 151.5, "titleY": -26, "titleAlign": "center", "titleBaseline": "alphabetic"}},
            "y": {"field": "upper", "type": "quantitative", "axis": null}
          }
        }
      ]
    },
    {
      "width": 303, "height": 200,
      "title": {"text": "D", "anchor": "start", "frame": "bounds", "fontSize": 30, "fontWeight": "normal", "color": "#1a1a1a", "baseline": "alphabetic", "offset": 0, "dx": -20, "dy": 50},
      "transform": [{"filter": "datum.panel == 'D'"}, {"calculate": "datum.time + '|' + datum.group", "as": "key"}],
      "resolve": {"axis": {"x": "independent", "y": "independent"}},
      "layer": [
        {
          "mark": {"type": "bar", "stroke": "#1a1a1a", "strokeWidth": 1.3, "width": {"band": 2}},
          "encoding": {
            "x": {"field": "key", "type": "nominal", "scale": {"type": "band", "domain": ["0h|control","_1","_2","2h|control","_3","2h|MOI=1","2h","2h|MOI=5","_4","2h|MOI=10","_5","_6","4h|control","_7","4h|MOI=1","4h","4h|MOI=5","_8","4h|MOI=10","_9","_10","6h|control","_11","6h|MOI=1","6h","6h|MOI=5","_12","6h|MOI=10"], "paddingInner": 0, "paddingOuter": 1},
              "axis": {"values": ["0h|control","2h","4h","6h"], "labelExpr": "split(datum.value,'|')[0]", "labelAngle": 0, "labelFontSize": 14, "labelFontWeight": "bold", "labelColor": "#1a1a1a", "labelPadding": 2, "tickSize": 5, "tickWidth": 1.5, "tickColor": "#1a1a1a", "domainColor": "#1a1a1a", "domainWidth": 2, "title": "time", "titleX": 284, "titleY": 25, "titleAlign": "left", "titleAnchor": "start", "titleBaseline": "alphabetic", "titleFontSize": 19, "titleFontWeight": "normal", "titleColor": "#1a1a1a"}},
            "y": {"field": "mean", "type": "quantitative", "scale": {"domain": [0, 25], "nice": false},
              "axis": {"orient": "left", "values": [0,5,10,15,20,25], "labelOverlap": false, "title": "rel.", "titleFontSize": 19, "titleFontWeight": "normal", "titleColor": "#1a1a1a", "titleX": -29, "titleY": 160, "titleAngle": 270, "titleAlign": "left", "titleBaseline": "alphabetic", "labelFontSize": 15, "labelFontWeight": "bold", "labelColor": "#1a1a1a", "labelPadding": 2, "tickSize": 5, "tickWidth": 1.5, "tickColor": "#1a1a1a", "domainColor": "#1a1a1a", "domainWidth": 2}},
            "fill": {"field": "group", "type": "nominal",
              "scale": {"domain": ["control","MOI=1","MOI=5","MOI=10"], "range": ["#1a1a1a",
                {"expr": "{gradient:'linear',x1:0,y1:0,x2:1,y2:0,stops:[{offset:0,color:'#fff'},{offset:0.18,color:'#fff'},{offset:0.18,color:'#222'},{offset:0.235,color:'#222'},{offset:0.235,color:'#fff'},{offset:0.38,color:'#fff'},{offset:0.38,color:'#222'},{offset:0.435,color:'#222'},{offset:0.435,color:'#fff'},{offset:0.58,color:'#fff'},{offset:0.58,color:'#222'},{offset:0.635,color:'#222'},{offset:0.635,color:'#fff'},{offset:0.78,color:'#fff'},{offset:0.78,color:'#222'},{offset:0.835,color:'#222'},{offset:0.835,color:'#fff'},{offset:1,color:'#fff'}]}"},
                "#ffffff",
                {"expr": "{gradient:'linear',x1:1,y1:0,x2:-0.205,y2:0.548,stops:[{offset:0,color:'#222'},{offset:0.084,color:'#222'},{offset:0.084,color:'#fff'},{offset:0.21,color:'#fff'},{offset:0.21,color:'#222'},{offset:0.294,color:'#222'},{offset:0.294,color:'#fff'},{offset:0.42,color:'#fff'},{offset:0.42,color:'#222'},{offset:0.504,color:'#222'},{offset:0.504,color:'#fff'},{offset:0.63,color:'#fff'},{offset:0.63,color:'#222'},{offset:0.714,color:'#222'},{offset:0.714,color:'#fff'},{offset:0.84,color:'#fff'},{offset:0.84,color:'#222'},{offset:0.924,color:'#222'},{offset:0.924,color:'#fff'},{offset:1,color:'#fff'}]}"}
              ]},
              "legend": {"orient": "none", "legendX": 505, "legendY": -106, "columns": 2, "title": null, "padding": 0, "symbolType": "M-1.375,-0.625H1.375V0.625H-1.375Z", "symbolSize": 256, "symbolStrokeColor": "#1a1a1a", "symbolStrokeWidth": 1, "symbolOpacity": 1, "labelFontSize": 16, "labelColor": "#222222", "labelOffset": 16, "columnPadding": 10, "rowPadding": 3}}
          }
        },
        {
          "transform": [{"filter": "datum.group == 'MOI=10'"}],
          "mark": {"type": "bar", "stroke": "#1a1a1a", "strokeWidth": 1.3, "width": {"band": 2},
            "fill": {"expr": "{gradient:'linear',x1:1,y1:0,x2:1-20.2*(20.2+datum.mean*8)/(408+pow(datum.mean*8,2)),y2:datum.mean*8*(20.2+datum.mean*8)/(408+pow(datum.mean*8,2)),stops:[{offset:0,color:'#222'},{offset:min(1,2.7/(20.2+datum.mean*8)),color:'#222'},{offset:min(1,2.7/(20.2+datum.mean*8)),color:'#fff'},{offset:min(1,6.7/(20.2+datum.mean*8)),color:'#fff'},{offset:min(1,6.7/(20.2+datum.mean*8)),color:'#222'},{offset:min(1,9.4/(20.2+datum.mean*8)),color:'#222'},{offset:min(1,9.4/(20.2+datum.mean*8)),color:'#fff'},{offset:min(1,13.4/(20.2+datum.mean*8)),color:'#fff'},{offset:min(1,13.4/(20.2+datum.mean*8)),color:'#222'},{offset:min(1,16.1/(20.2+datum.mean*8)),color:'#222'},{offset:min(1,16.1/(20.2+datum.mean*8)),color:'#fff'},{offset:min(1,20.1/(20.2+datum.mean*8)),color:'#fff'},{offset:min(1,20.1/(20.2+datum.mean*8)),color:'#222'},{offset:min(1,22.8/(20.2+datum.mean*8)),color:'#222'},{offset:min(1,22.8/(20.2+datum.mean*8)),color:'#fff'},{offset:min(1,26.8/(20.2+datum.mean*8)),color:'#fff'},{offset:min(1,26.8/(20.2+datum.mean*8)),color:'#222'},{offset:min(1,29.5/(20.2+datum.mean*8)),color:'#222'},{offset:min(1,29.5/(20.2+datum.mean*8)),color:'#fff'},{offset:min(1,33.5/(20.2+datum.mean*8)),color:'#fff'},{offset:min(1,33.5/(20.2+datum.mean*8)),color:'#222'},{offset:min(1,36.2/(20.2+datum.mean*8)),color:'#222'},{offset:min(1,36.2/(20.2+datum.mean*8)),color:'#fff'},{offset:min(1,40.2/(20.2+datum.mean*8)),color:'#fff'},{offset:min(1,40.2/(20.2+datum.mean*8)),color:'#222'},{offset:min(1,42.9/(20.2+datum.mean*8)),color:'#222'},{offset:min(1,42.9/(20.2+datum.mean*8)),color:'#fff'},{offset:min(1,46.9/(20.2+datum.mean*8)),color:'#fff'},{offset:min(1,46.9/(20.2+datum.mean*8)),color:'#222'},{offset:min(1,49.6/(20.2+datum.mean*8)),color:'#222'},{offset:min(1,49.6/(20.2+datum.mean*8)),color:'#fff'},{offset:min(1,53.6/(20.2+datum.mean*8)),color:'#fff'},{offset:min(1,53.6/(20.2+datum.mean*8)),color:'#222'},{offset:min(1,56.3/(20.2+datum.mean*8)),color:'#222'},{offset:min(1,56.3/(20.2+datum.mean*8)),color:'#fff'},{offset:min(1,60.3/(20.2+datum.mean*8)),color:'#fff'},{offset:min(1,60.3/(20.2+datum.mean*8)),color:'#222'},{offset:min(1,63/(20.2+datum.mean*8)),color:'#222'},{offset:min(1,63/(20.2+datum.mean*8)),color:'#fff'},{offset:min(1,67/(20.2+datum.mean*8)),color:'#fff'},{offset:min(1,67/(20.2+datum.mean*8)),color:'#222'},{offset:min(1,69.7/(20.2+datum.mean*8)),color:'#222'},{offset:min(1,69.7/(20.2+datum.mean*8)),color:'#fff'},{offset:min(1,73.7/(20.2+datum.mean*8)),color:'#fff'},{offset:min(1,73.7/(20.2+datum.mean*8)),color:'#222'},{offset:min(1,76.4/(20.2+datum.mean*8)),color:'#222'},{offset:min(1,76.4/(20.2+datum.mean*8)),color:'#fff'},{offset:min(1,80.4/(20.2+datum.mean*8)),color:'#fff'},{offset:min(1,80.4/(20.2+datum.mean*8)),color:'#222'},{offset:min(1,83.1/(20.2+datum.mean*8)),color:'#222'},{offset:min(1,83.1/(20.2+datum.mean*8)),color:'#fff'},{offset:min(1,87.1/(20.2+datum.mean*8)),color:'#fff'},{offset:min(1,87.1/(20.2+datum.mean*8)),color:'#222'},{offset:min(1,89.8/(20.2+datum.mean*8)),color:'#222'},{offset:min(1,89.8/(20.2+datum.mean*8)),color:'#fff'},{offset:min(1,93.8/(20.2+datum.mean*8)),color:'#fff'},{offset:min(1,93.8/(20.2+datum.mean*8)),color:'#222'},{offset:min(1,96.5/(20.2+datum.mean*8)),color:'#222'},{offset:min(1,96.5/(20.2+datum.mean*8)),color:'#fff'},{offset:min(1,100.5/(20.2+datum.mean*8)),color:'#fff'},{offset:min(1,100.5/(20.2+datum.mean*8)),color:'#222'},{offset:min(1,103.2/(20.2+datum.mean*8)),color:'#222'},{offset:min(1,103.2/(20.2+datum.mean*8)),color:'#fff'},{offset:min(1,107.2/(20.2+datum.mean*8)),color:'#fff'},{offset:min(1,107.2/(20.2+datum.mean*8)),color:'#222'},{offset:min(1,109.9/(20.2+datum.mean*8)),color:'#222'},{offset:min(1,109.9/(20.2+datum.mean*8)),color:'#fff'},{offset:min(1,113.9/(20.2+datum.mean*8)),color:'#fff'},{offset:min(1,113.9/(20.2+datum.mean*8)),color:'#222'},{offset:min(1,116.6/(20.2+datum.mean*8)),color:'#222'},{offset:min(1,116.6/(20.2+datum.mean*8)),color:'#fff'},{offset:min(1,120.6/(20.2+datum.mean*8)),color:'#fff'},{offset:min(1,120.6/(20.2+datum.mean*8)),color:'#222'},{offset:min(1,123.3/(20.2+datum.mean*8)),color:'#222'},{offset:min(1,123.3/(20.2+datum.mean*8)),color:'#fff'},{offset:min(1,127.3/(20.2+datum.mean*8)),color:'#fff'},{offset:min(1,127.3/(20.2+datum.mean*8)),color:'#222'},{offset:min(1,130/(20.2+datum.mean*8)),color:'#222'},{offset:min(1,130/(20.2+datum.mean*8)),color:'#fff'},{offset:min(1,134/(20.2+datum.mean*8)),color:'#fff'},{offset:min(1,134/(20.2+datum.mean*8)),color:'#222'},{offset:min(1,136.7/(20.2+datum.mean*8)),color:'#222'},{offset:min(1,136.7/(20.2+datum.mean*8)),color:'#fff'},{offset:1,color:'#fff'}]}"}},
          "encoding": {
            "x": {"field": "key", "type": "nominal", "axis": null},
            "y": {"field": "mean", "type": "quantitative", "axis": null}
          }
        },
        {
          "transform": [{"filter": "isValid(datum.upper)"}],
          "mark": {"type": "rule", "color": "#444444", "strokeWidth": 1.3},
          "encoding": {
            "x": {"field": "key", "type": "nominal", "axis": null},
            "y": {"field": "mean", "type": "quantitative", "axis": {"orient": "left", "domain": false, "ticks": false, "labels": false, "title": "IL1A", "titleFontStyle": "italic", "titleFontSize": 19, "titleFontWeight": "normal", "titleColor": "#1a1a1a", "titleX": -29, "titleY": 128.3, "titleAngle": 270, "titleAlign": "left", "titleBaseline": "alphabetic"}},
            "y2": {"field": "upper"}
          }
        },
        {
          "transform": [{"filter": "isValid(datum.upper)"}],
          "mark": {"type": "tick", "color": "#444444", "thickness": 1.3, "size": 10, "orient": "horizontal"},
          "encoding": {
            "x": {"field": "key", "type": "nominal", "axis": null},
            "y": {"field": "upper", "type": "quantitative", "axis": {"orient": "left", "domain": false, "ticks": false, "labels": false, "title": "expression", "titleFontSize": 19, "titleFontWeight": "normal", "titleColor": "#1a1a1a", "titleX": -29, "titleY": 84, "titleAngle": 270, "titleAlign": "left", "titleBaseline": "alphabetic"}}
          }
        },
        {
          "transform": [{"filter": "datum.sig"}],
          "mark": {"type": "text", "text": "*", "fontSize": 24, "fontWeight": "bold", "color": "#1a1a1a", "baseline": "alphabetic", "dy": -5},
          "encoding": {
            "x": {"field": "key", "type": "nominal", "axis": {"orient": "top", "domain": false, "ticks": false, "labels": false, "title": "L. amylovorus", "titleFontStyle": "italic", "titleFontWeight": "bold", "titleFontSize": 19, "titleColor": "#1a1a1a", "titleX": 151.5, "titleY": -26, "titleAlign": "center", "titleBaseline": "alphabetic"}},
            "y": {"field": "upper", "type": "quantitative", "axis": null}
          }
        }
      ]
    }
  ]
}
